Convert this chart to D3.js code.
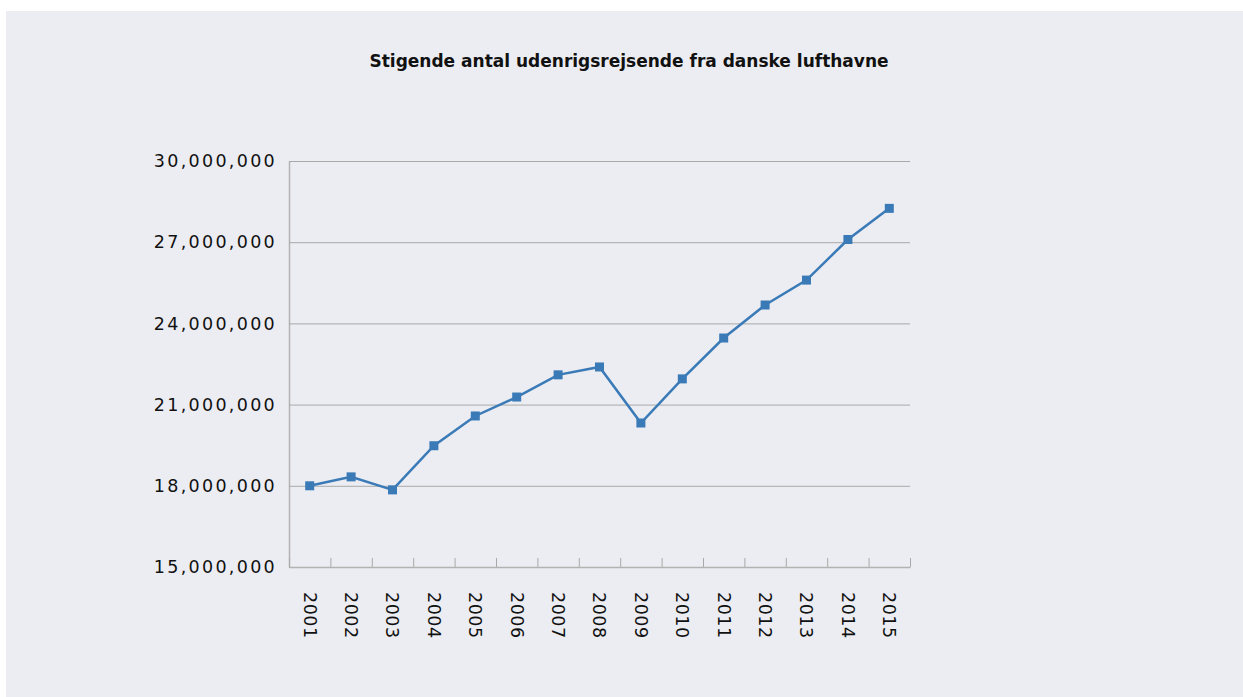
<!DOCTYPE html>
<html>
<head>
<meta charset="utf-8">
<script src="https://cdn.jsdelivr.net/npm/d3@7"></script>
<style>
  body { margin: 0; background: #fff; }
  svg { display: block; }
</style>
</head>
<body>
<svg id="chart" width="1243" height="697"></svg>
<script>
// passagerer (udenrigs) pr. år
const years = ["2001","2002","2003","2004","2005","2006","2007","2008","2009","2010","2011","2012","2013","2014","2015"]
const travellers = [18000000, 18330000, 17850000, 19480000, 20580000, 21280000, 22100000, 22390000, 20320000, 21950000, 23460000, 24680000, 25600000, 27100000, 28250000]
const yTicks = [15000000, 18000000, 21000000, 24000000, 27000000, 30000000]
const title = "Stigende antal udenrigsrejsende fra danske lufthavne"

const svg = d3.select("#chart")
const plotLeft = 289, plotRight = 910, plotTop = 161, plotBottom = 567
const plotW = plotRight - plotLeft

svg.append("rect")
    .attr("x", 6).attr("y", 11)
    .attr("width", 1243 - 6).attr("height", 697 - 11)
    .attr("fill", "#ecedf2")

svg.append("text")
    .attr("x", 629).attr("y", 67)
    .attr("text-anchor", "middle")
    .style("font-family", "'DejaVu Sans', sans-serif")
    .style("font-weight", "bold")
    .style("font-size", "17px")
    .attr("fill", "#111")
    .text(title)

var x = d3.scaleBand().domain(years).range([plotLeft, plotRight]).padding(0)
var y = d3.scaleLinear().domain([15000000, 30000000]).range([plotBottom, plotTop])

// y axis + gridlines
var yAxis = svg.append("g")
    .attr("transform", `translate(${plotLeft},0)`)
    .call(d3.axisLeft(y)
        .tickValues(yTicks)
        .tickSize(-plotW)
        .tickSizeOuter(0)
        .tickPadding(12)
        .tickFormat(d3.format(",")))
yAxis.select(".domain").attr("stroke", "#b3b3b3").attr("stroke-width", 1.5)
yAxis.selectAll(".tick line").attr("stroke", "#a9a9a9")
yAxis.selectAll(".tick text")
    .style("font-family", "'DejaVu Sans', sans-serif")
    .style("font-size", "17.5px")
    .style("letter-spacing", "2.3px")
    .attr("fill", "#111")

// x axis boundary ticks (upward)
var xEdge = d3.scaleLinear().domain([0, years.length]).range([plotLeft, plotRight])
var xTicks = svg.append("g")
    .attr("transform", `translate(0,${plotBottom})`)
    .call(d3.axisBottom(xEdge)
        .ticks(years.length)
        .tickSize(-9)
        .tickSizeOuter(0)
        .tickFormat(""))
xTicks.select(".domain").attr("stroke", "#b3b3b3").attr("stroke-width", 1.5)
xTicks.selectAll(".tick line").attr("stroke", "#a9a9a9")

// x labels, rotated
var xLabels = svg.append("g")
    .attr("transform", `translate(0,${plotBottom})`)
    .call(d3.axisBottom(x).tickSize(0).tickPadding(0))
xLabels.select(".domain").remove()
xLabels.selectAll(".tick text")
    .attr("transform", "rotate(90)")
    .attr("x", 25)
    .attr("y", 0)
    .attr("dy", "0.35em")
    .attr("text-anchor", "start")
    .style("font-family", "'DejaVu Sans', sans-serif")
    .style("font-size", "17.5px")
    .style("letter-spacing", "0.5px")
    .attr("fill", "#111")

var cx = function(d, i) { return x(years[i]) + x.bandwidth() / 2 }

svg.append("path")
    .datum(travellers)
    .attr("fill", "none")
    .attr("stroke", "#3a7ab7")
    .attr("stroke-width", 2.5)
    .attr("d", d3.line().x(cx).y(d => y(d)))

svg.selectAll(".pt")
    .data(travellers)
    .enter()
    .append("rect")
        .attr("class", "pt")
        .attr("x", (d, i) => cx(d, i) - 4.5)
        .attr("y", d => y(d) - 4.5)
        .attr("width", 9)
        .attr("height", 9)
        .attr("fill", "#3a7ab7")
</script>
</body>
</html>
